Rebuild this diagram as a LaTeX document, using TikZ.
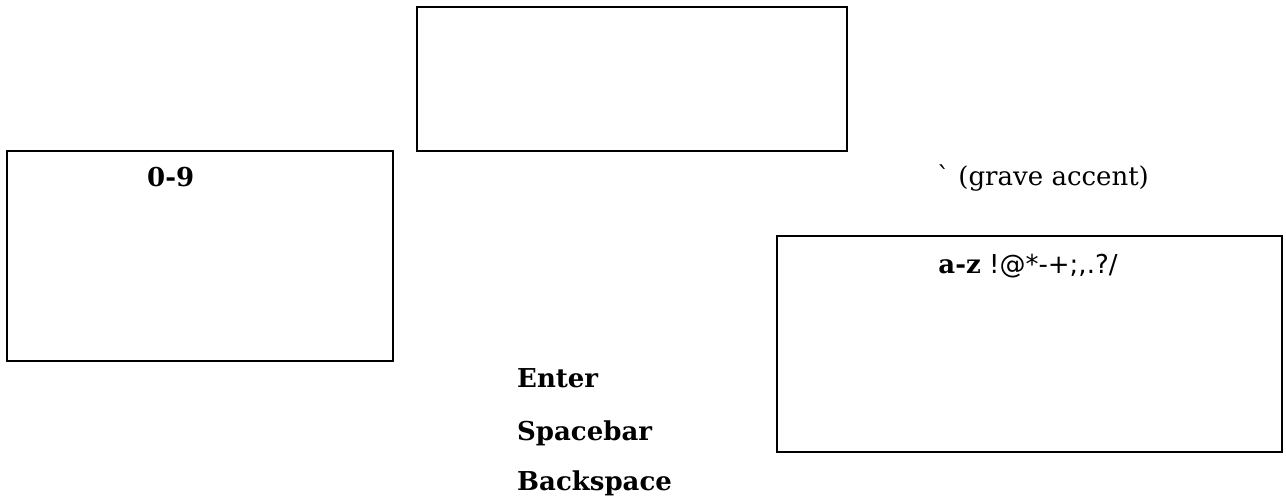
\documentclass[tikz,border=0pt]{standalone}
\usepackage{fontspec}
\setmainfont{DejaVu Serif}
\newfontfamily\rawserif{DejaVu Serif}[Ligatures=TeXOff]
\newfontfamily\dvsans{DejaVu Sans}
\begin{document}
\begin{tikzpicture}[x=1pt,y=-1pt,
  box/.style={draw=black,line width=1.8pt,anchor=north west,inner sep=0pt,outer sep=0pt},
  lbl/.style={inner sep=0pt,anchor=base west,font=\fontsize{26}{31}\selectfont}]
\useasboundingbox (0,0) rectangle (1286,497);
\node[box,minimum width=430pt,minimum height=144pt] (topbox) at (417,7) {};
\node[box,minimum width=386pt,minimum height=210pt] (leftbox) at (7,151) {};
\node[box,minimum width=505pt,minimum height=216pt] (rightbox) at (777,236) {};
\node[lbl] (digits) at (147,187) {\bfseries 0-9};
\node[lbl] (grave) at (937,186) {\rawserif\symbol{96} (grave accent)};
\node[lbl,anchor=base] (letters) at (1028,274) {{\bfseries a-z} {\dvsans\mdseries !@*-+;,.?/}};
\node[lbl] (enter) at (517,387) {\bfseries Enter};
\node[lbl] (space) at (517,440) {\bfseries Spacebar};
\node[lbl] (back) at (517,490) {\bfseries Backspace};
\end{tikzpicture}
\end{document}
